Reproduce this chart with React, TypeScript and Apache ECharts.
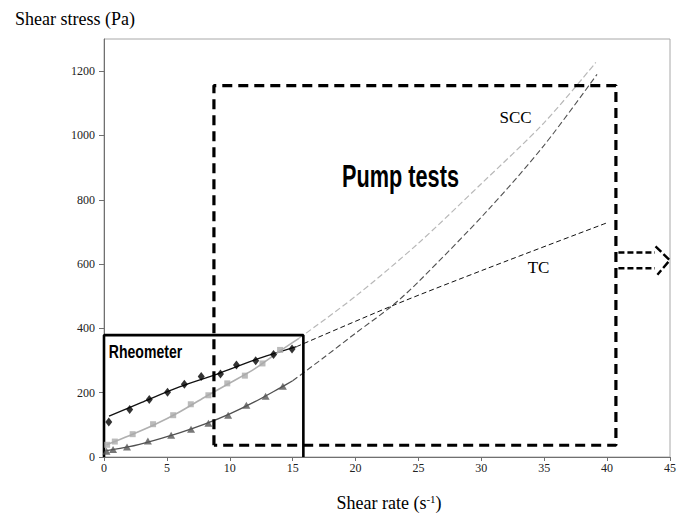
import React, { useEffect, useRef } from "react";
import * as echarts from "echarts";

// Rheometer measurements (shear rate s-1, shear stress Pa)
const tcPoints = [[0.38, 109], [2.04, 148], [3.6, 179], [5.05, 201], [6.39, 226], [7.73, 250], [9.26, 258], [10.53, 286], [12.06, 299], [13.48, 319], [14.95, 336]];
const sccLightPoints = [[0.25, 38], [0.86, 48], [2.28, 71], [3.9, 102], [5.5, 130], [6.9, 164], [8.3, 192], [9.8, 229], [11.2, 253], [12.6, 291], [14.0, 333]];
const sccDarkPoints = [[0.2, 18], [0.72, 23], [1.83, 31], [3.49, 50], [5.34, 68], [6.92, 86], [8.3, 105], [9.87, 130], [11.32, 161], [12.85, 189], [14.22, 220]];

// Fitted curves inside rheometer range
const tcFit = [[0.4, 127], [3, 170], [6, 218], [9, 258], [12, 302], [15.3, 343]];
const sccLightFit = [[0.2, 38], [2, 66], [4, 100], [6, 140], [8, 186], [10, 230], [12, 275], [14, 330], [15.5, 369]];
const sccDarkFit = [[0.2, 20], [2, 32], [4, 52], [6, 75], [8, 102], [10, 134], [12, 172], [14, 215], [15, 237]];

// Extrapolations into pump-test range
const tcExtra = [[15.3, 343], [22.9, 470], [30.5, 587], [40.1, 730]];
const sccLightExtra = [[15.5, 369], [20, 500], [25, 665], [30, 850], [35, 1040], [39.1, 1227]];
const sccDarkExtra = [[15, 237], [17.4, 307], [20, 385], [22.9, 470], [25, 545], [30.55, 769], [35, 970], [39.2, 1190]];

// Annotation boxes (data coordinates)
const rheometerBox = [[0, 0], [0, 379], [15.85, 379], [15.85, 0]];
const pumpBox = [[8.74, 36.5], [8.74, 1155], [40.7, 1155], [40.7, 36.5], [8.74, 36.5]];
const arrowTop = [[40.9, 636], [43.8, 636]];
const arrowBottom = [[40.9, 587], [43.8, 587]];
const arrowHead = [[43.85, 655], [44.98, 612], [44.0, 567]];

const yTicks = [0, 200, 400, 600, 800, 1000, 1200];

export default function App() {
  const ref = useRef<HTMLDivElement>(null);
  useEffect(() => {
    if (!ref.current) return;
    const chart = echarts.init(ref.current, null, { renderer: "svg" });
    const serif = "'Liberation Serif', 'Times New Roman', serif";
    const sans = "'Liberation Sans', Arial, sans-serif";
    const lineS = (data: number[][], color: string, width: number, dashed?: number[] | false) => ({
      type: "line",
      data,
      symbol: "none",
      smooth: 0.3,
      clip: false,
      silent: true,
      lineStyle: { color, width, type: dashed ? dashed : "solid" },
      z: 2,
    });
    const polyS = (data: number[][], width: number, dashed: number[] | false) => ({
      type: "line",
      data,
      symbol: "none",
      clip: false,
      silent: true,
      lineStyle: { color: "#000", width, type: dashed ? dashed : "solid" },
      z: 3,
    });
    chart.setOption({
      animation: false,
      backgroundColor: "#fff",
      grid: { left: 104, right: 6, top: 39, bottom: 64, show: true, borderColor: "#a8a8a8", borderWidth: 1 },
      xAxis: {
        type: "value",
        min: 0,
        max: 45,
        interval: 5,
        splitLine: { show: false },
        axisLine: { lineStyle: { color: "#707070", width: 1 } },
        axisTick: { length: 4, lineStyle: { color: "#707070" } },
        axisLabel: { color: "#222", fontFamily: serif, fontSize: 12, margin: 5, formatter: (v: number) => String(v) },
      },
      yAxis: {
        type: "value",
        min: 0,
        max: 1300,
        interval: 100,
        splitLine: { show: false },
        axisLine: { show: true, lineStyle: { color: "#707070", width: 1 } },
        axisTick: { show: true, length: 5, customValues: yTicks, lineStyle: { color: "#707070" } },
        axisLabel: { color: "#222", fontFamily: serif, fontSize: 12, margin: 9, customValues: yTicks, formatter: (v: number) => String(v) },
      },
      series: [
        lineS(tcFit, "#111", 1.3),
        lineS(tcExtra, "#111", 1, [5, 3]),
        lineS(sccLightFit, "#b0b0b0", 1.6),
        lineS(sccLightExtra, "#b8b8b8", 1.2, [6, 3]),
        lineS(sccDarkFit, "#505050", 1.3),
        lineS(sccDarkExtra, "#505050", 1.1, [6, 3]),
        {
          type: "scatter",
          name: "TC",
          data: tcPoints,
          symbol: "diamond",
          symbolSize: [7, 9],
          itemStyle: { color: "#000" },
          z: 4,
        },
        {
          type: "scatter",
          name: "SCC light",
          data: sccLightPoints,
          symbol: "rect",
          symbolSize: 6,
          itemStyle: { color: "#aaaaaa" },
          z: 4,
        },
        {
          type: "scatter",
          name: "SCC dark",
          data: sccDarkPoints,
          symbol: "triangle",
          symbolSize: [8, 7],
          itemStyle: { color: "#555555" },
          z: 4,
        },
        polyS(rheometerBox, 2.6, false),
        polyS(pumpBox, 3.2, [10, 6]),
        polyS(arrowTop, 2.4, [6, 3]),
        polyS(arrowBottom, 2.4, [6, 3]),
        polyS(arrowHead, 2.4, [8, 3]),
      ],
      graphic: [
        {
          type: "text",
          x: 15,
          y: 19,
          style: { text: "Shear stress (Pa)", font: `18px ${serif}`, fill: "#000", textAlign: "left", textVerticalAlign: "middle" },
        },
        {
          type: "text",
          x: 389,
          y: 503,
          style: {
            text: "{a|Shear rate (s}{b|-1}{a|)}",
            textAlign: "center",
            textVerticalAlign: "middle",
            rich: {
              a: { fontFamily: serif, fontSize: 18, fill: "#000", color: "#000" },
              b: { fontFamily: serif, fontSize: 11, fill: "#000", color: "#000", verticalAlign: "top", padding: [0, 0, 8, 0] },
            },
          },
        },
        {
          type: "text",
          x: 400.5,
          y: 177,
          scaleX: 0.7,
          style: { text: "Pump tests", font: `bold 31px ${sans}`, fill: "#000", textAlign: "center", textVerticalAlign: "middle" },
        },
        {
          type: "text",
          x: 145.5,
          y: 351.5,
          scaleX: 0.74,
          style: { text: "Rheometer", font: `bold 19px ${sans}`, fill: "#000", textAlign: "center", textVerticalAlign: "middle" },
        },
        {
          type: "text",
          x: 515.5,
          y: 117,
          style: { text: "SCC", font: `17px ${serif}`, fill: "#000", textAlign: "center", textVerticalAlign: "middle" },
        },
        {
          type: "text",
          x: 538.5,
          y: 267,
          style: { text: "TC", font: `17px ${serif}`, fill: "#000", textAlign: "center", textVerticalAlign: "middle" },
        },
      ],
    });
    return () => chart.dispose();
  }, []);
  return <div ref={ref} style={{ position: "fixed", left: 0, top: 0, width: 679, height: 521 }} />;
}
